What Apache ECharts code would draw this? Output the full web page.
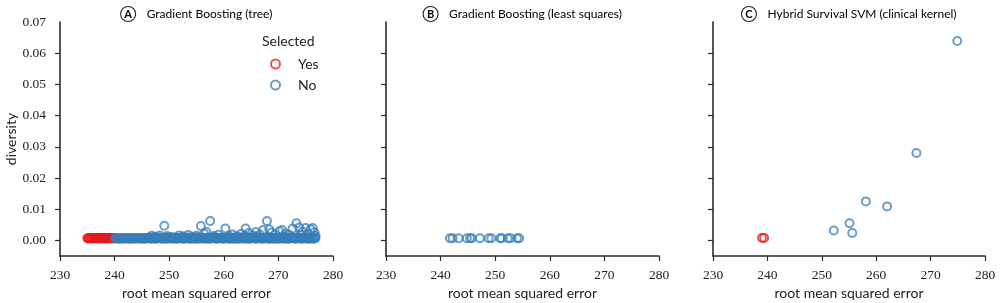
<!DOCTYPE html>
<html>
<head>
<meta charset="utf-8">
<script src="https://cdn.jsdelivr.net/npm/echarts@6/dist/echarts.min.js"></script>
<style>
html,body{margin:0;padding:0;background:#fff;}
#chart{width:1000px;height:303px;}
</style>
</head>
<body>
<div id="chart"></div>
<script>
// ---------- data ----------
const panelTitles = ['Gradient Boosting (tree)', 'Gradient Boosting (least squares)', 'Hybrid Survival SVM (clinical kernel)'];
const panelLetters = ['A', 'B', 'C'];
const legendTitle = 'Selected';
const groupNames = ['Yes', 'No'];
const xTicks = [230, 240, 250, 260, 270, 280];
const yTickLabels = [0, 0.01, 0.02, 0.03, 0.04, 0.05, 0.06, 0.07];
const yTickMarks = [0, 0.01, 0.02, 0.03, 0.04, 0.05, 0.06];
const xAxisName = 'root mean squared error';
const yAxisName = 'diversity';

// Panel A: Gradient Boosting (tree) — selected models (dense band)
const treeYes = [
  [235.0,0.0007],[235.15,0.0006],[235.3,0.0008],[235.45,0.0007],[235.6,0.0006],[235.75,0.0008],
  [235.9,0.0007],[236.05,0.0006],[236.2,0.0008],[236.35,0.0007],[236.5,0.0006],[236.65,0.0008],
  [236.8,0.0007],[236.95,0.0006],[237.1,0.0008],[237.25,0.0007],[237.4,0.0006],[237.55,0.0008],
  [237.7,0.0007],[237.85,0.0006],[238.0,0.0008],[238.15,0.0007],[238.3,0.0006],[238.45,0.0008],
  [238.6,0.0007],[238.75,0.0006],[238.9,0.0008],[239.05,0.0007],[239.2,0.0006],[239.35,0.0008],
  [239.5,0.0007],[239.65,0.0006],[239.8,0.0008],[239.95,0.0007]
];
// Panel A: not-selected models (dense band plus scattered higher-diversity models)
const treeNo = [
  [240.1,0.0006],[240.3,0.0008],[240.5,0.0007],[240.7,0.0005],[240.9,0.0006],[241.1,0.0008],
  [241.3,0.0007],[241.5,0.0005],[241.7,0.0008],[241.9,0.0007],[242.1,0.0006],[242.3,0.0008],
  [242.5,0.0007],[242.7,0.0005],[242.9,0.0006],[243.1,0.0008],[243.3,0.0007],[243.5,0.0005],
  [243.7,0.0008],[243.9,0.0007],[244.1,0.0006],[244.3,0.0008],[244.5,0.0007],[244.7,0.0005],
  [244.9,0.0007],[245.1,0.0008],[245.3,0.0006],[245.5,0.0005],[245.7,0.0008],[245.9,0.0007],
  [246.1,0.0007],[246.3,0.0009],[246.5,0.0006],[246.7,0.0005],[246.9,0.0007],[247.1,0.0009],
  [247.3,0.0008],[247.5,0.0005],[247.7,0.0006],[247.9,0.0008],[248.1,0.0007],[248.3,0.0009],
  [248.5,0.0007],[248.7,0.0005],[248.9,0.0006],[249.1,0.0008],[249.3,0.0008],[249.5,0.0005],
  [249.7,0.0007],[249.9,0.0009],[250.1,0.0006],[250.3,0.0008],[250.5,0.0007],[250.7,0.0005],
  [250.9,0.0008],[251.1,0.0009],[251.3,0.0006],[251.5,0.0005],[251.7,0.0007],[251.9,0.0008],
  [252.1,0.0007],[252.3,0.0009],[252.5,0.0006],[252.7,0.0005],[252.9,0.0008],[253.1,0.0007],
  [253.3,0.0007],[253.5,0.0009],[253.7,0.0006],[253.9,0.0005],[254.1,0.0007],[254.3,0.0008],
  [254.5,0.0008],[254.7,0.0005],[254.9,0.0006],[255.1,0.0009],[255.3,0.0007],[255.5,0.0005],
  [255.7,0.0007],[255.9,0.0009],[256.1,0.0006],[256.3,0.0008],[256.5,0.0008],[256.7,0.0005],
  [256.9,0.0007],[257.1,0.0009],[257.3,0.0006],[257.5,0.0005],[257.7,0.0007],[257.9,0.0008],
  [258.1,0.0008],[258.3,0.0009],[258.5,0.0006],[258.7,0.0005],[258.9,0.0007],[259.1,0.0008],
  [259.3,0.0007],[259.5,0.0009],[259.7,0.0006],[259.9,0.0005],[260.1,0.0008],[260.3,0.0007],
  [260.5,0.0007],[260.7,0.0009],[260.9,0.0006],[261.1,0.0005],[261.3,0.0007],[261.5,0.0008],
  [261.7,0.0008],[261.9,0.0005],[262.1,0.0006],[262.3,0.0009],[262.5,0.0007],[262.7,0.0005],
  [262.9,0.0007],[263.1,0.0009],[263.3,0.0006],[263.5,0.0008],[263.7,0.0008],[263.9,0.0005],
  [264.1,0.0007],[264.3,0.0009],[264.5,0.0006],[264.7,0.0005],[264.9,0.0007],[265.1,0.0008],
  [265.3,0.0008],[265.5,0.0009],[265.7,0.0006],[265.9,0.0005],[266.1,0.0007],[266.3,0.0008],
  [266.5,0.0007],[266.7,0.0009],[266.9,0.0006],[267.1,0.0005],[267.3,0.0008],[267.5,0.0007],
  [267.7,0.0007],[267.9,0.0009],[268.1,0.0006],[268.3,0.0005],[268.5,0.0007],[268.7,0.0008],
  [268.9,0.0008],[269.1,0.0005],[269.3,0.0006],[269.5,0.0009],[269.7,0.0007],[269.9,0.0005],
  [270.1,0.0007],[270.3,0.0009],[270.5,0.0006],[270.7,0.0008],[270.9,0.0008],[271.1,0.0005],
  [271.3,0.0007],[271.5,0.0009],[271.7,0.0006],[271.9,0.0005],[272.1,0.0007],[272.3,0.0008],
  [272.5,0.0008],[272.7,0.0009],[272.9,0.0006],[273.1,0.0005],[273.3,0.0007],[273.5,0.0008],
  [273.7,0.0007],[273.9,0.0009],[274.1,0.0006],[274.3,0.0005],[274.5,0.0008],[274.7,0.0007],
  [274.9,0.0007],[275.1,0.0009],[275.3,0.0006],[275.5,0.0005],[275.7,0.0007],[275.9,0.0008],
  [276.1,0.0008],[276.3,0.0005],[276.5,0.0006],[276.7,0.0009],[276.8,0.0007],
  [246.8,0.0015],[247.5,0.0012],[248.3,0.0016],[249.1,0.0047],[249.6,0.0014],[250.4,0.0011],
  [251.8,0.0016],[252.6,0.0013],[253.5,0.0017],[254.3,0.0012],[255.0,0.0015],[255.8,0.0046],
  [256.4,0.0022],[256.8,0.0027],[257.5,0.0062],[258.2,0.0014],[259.0,0.0018],[260.3,0.0038],
  [260.9,0.0015],[261.6,0.0019],[262.4,0.0013],[263.2,0.0021],[264.0,0.0038],[264.6,0.0024],
  [265.3,0.0016],[265.9,0.0027],[266.6,0.0019],[267.2,0.0033],[267.9,0.0062],[268.3,0.0036],
  [268.8,0.0025],[269.4,0.0018],[270.2,0.0029],[270.7,0.0033],[271.3,0.0022],[272.0,0.0017],
  [272.6,0.0038],[273.3,0.0055],[273.8,0.0041],[274.4,0.0028],[275.0,0.0040],[275.4,0.0022],
  [275.9,0.0036],[276.3,0.0040],[276.6,0.0025],[276.8,0.0015],[274.0,0.0017],[271.0,0.0013],
  [266.0,0.0012],[263.8,0.0014]
];

// Panel B: Gradient Boosting (least squares)
const lsNo = [
  [241.7,0.0007],[242.2,0.0007],[243.3,0.0007],[244.8,0.0007],[245.4,0.0007],[245.7,0.0007],
  [247.2,0.0007],[248.8,0.0007],[249.3,0.0007],[250.9,0.0007],[251.2,0.0007],[252.3,0.0007],
  [252.8,0.0007],[254.0,0.0007],[254.4,0.0007]
];

// Panel C: Hybrid Survival SVM (clinical kernel)
const svmYes = [[239.0,0.0008],[239.4,0.0008]];
const svmNo = [
  [252.2,0.0032],[255.1,0.0055],[255.6,0.0024],[258.1,0.0125],
  [262.0,0.0109],[267.4,0.0280],[274.9,0.0639]
];

// ---------- style ----------
const RED = '#e41a1c', BLUE = '#377eb8';
const SANS = 'Lato, "Noto Sans", sans-serif';
const SERIF = '"Liberation Serif", "DejaVu Serif", serif';
const AXIS = '#2b2b2b';

const gridsPos = [
  {left: 60, width: 273},
  {left: 386, width: 273},
  {left: 713, width: 272}
];

const chart = echarts.init(document.getElementById('chart'));

const grids = gridsPos.map(g => ({
  left: g.left, width: g.width, top: 22, height: 234,
  containLabel: false, outerBoundsMode: 'none'
}));

const xAxes = gridsPos.map((g, i) => ({
  type: 'value', gridIndex: i, min: xTicks[0], max: xTicks[xTicks.length - 1], interval: 10,
  splitLine: {show: false},
  axisLine: {onZero: false, lineStyle: {color: AXIS, width: 1.6}},
  axisTick: {length: 5, lineStyle: {color: AXIS, width: 1.2}},
  axisLabel: {fontFamily: SERIF, fontSize: 13.5, color: '#222', margin: 12},
  name: xAxisName, nameLocation: 'middle', nameGap: 30,
  nameTextStyle: {fontFamily: SANS, fontSize: 14, color: '#222'}
}));

const yAxes = gridsPos.map((g, i) => ({
  type: 'value', gridIndex: i, min: -0.005, max: 0.07,
  splitLine: {show: false},
  axisLine: {onZero: false, lineStyle: {color: AXIS, width: 1.6}},
  axisTick: {show: true, length: 5, customValues: yTickMarks, lineStyle: {color: AXIS, width: 1.2}},
  axisLabel: {
    show: i === 0, customValues: yTickLabels,
    formatter: v => v.toFixed(2),
    fontFamily: SERIF, fontSize: 13.5, color: '#222', margin: 14
  },
  name: i === 0 ? yAxisName : '', nameLocation: 'middle', nameGap: 41,
  nameTextStyle: {fontFamily: SANS, fontSize: 14, color: '#222'}
}));

function scatter(name, data, idx, color) {
  return {
    type: 'scatter', name: name, data: data,
    xAxisIndex: idx, yAxisIndex: idx,
    symbol: 'circle', symbolSize: 8,
    itemStyle: {color: 'rgba(255,255,255,0)', borderColor: color, borderWidth: 2, opacity: 0.75},
    emphasis: {disabled: true},
    animation: false
  };
}

const centers = gridsPos.map(g => g.left + g.width / 2);
const titleGraphics = panelTitles.map((t, i) => ({
  type: 'text', x: centers[i], y: 14,
  style: {
    text: '{c|' + panelLetters[i] + '}{t|' + t + '}',
    textAlign: 'center', textVerticalAlign: 'middle',
    rich: {
      c: {fontFamily: SANS, fontSize: 11, fontWeight: 'bold', color: '#222',
          width: 13, height: 13, lineHeight: 13, align: 'center',
          borderColor: '#222', borderWidth: 1.1, borderRadius: 8, padding: [1, 1, 1, 1]},
      t: {fontFamily: SANS, fontSize: 12, color: '#222', padding: [0, 0, 0, 11]}
    }
  }
}));

chart.setOption({
  animation: false,
  grid: grids,
  xAxis: xAxes,
  yAxis: yAxes,
  legend: {
    orient: 'vertical', left: 265, top: 51, itemGap: 5,
    itemWidth: 9, itemHeight: 9,
    data: [
      {name: groupNames[0], icon: 'circle', itemStyle: {color: '#fff', borderColor: RED, borderWidth: 2}},
      {name: groupNames[1], icon: 'circle', itemStyle: {color: '#fff', borderColor: BLUE, borderWidth: 2}}
    ],
    textStyle: {fontFamily: SANS, fontSize: 14, color: '#222', lineHeight: 16, padding: [0, 0, 0, 13]},
    selectedMode: false
  },
  graphic: titleGraphics.concat([
    {type: 'text', x: 262, y: 41, style: {text: legendTitle, fontFamily: SANS, fontSize: 14, fill: '#222', textVerticalAlign: 'middle'}}
  ]),
  series: [
    scatter(groupNames[0], treeYes, 0, RED),
    scatter(groupNames[1], treeNo, 0, BLUE),
    scatter(groupNames[1], lsNo, 1, BLUE),
    scatter(groupNames[0], svmYes, 2, RED),
    scatter(groupNames[1], svmNo, 2, BLUE)
  ]
});
</script>
</body>
</html>
